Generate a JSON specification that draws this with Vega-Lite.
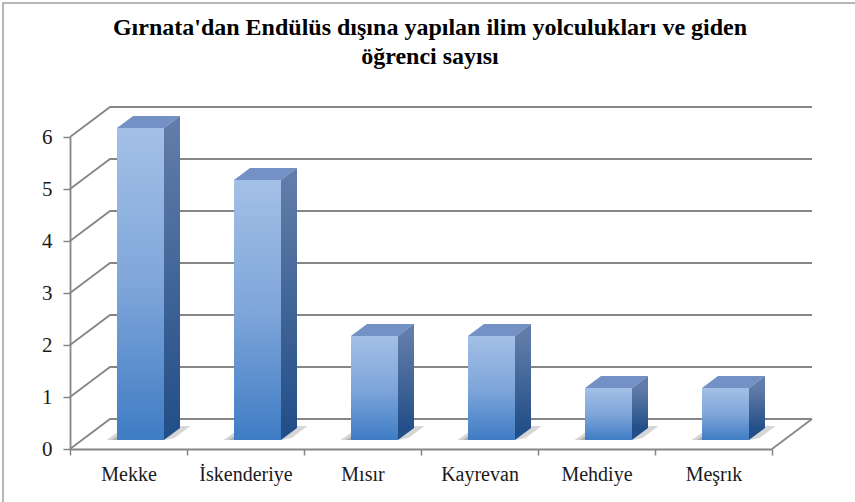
{
"$schema":"https://vega.github.io/schema/vega-lite/v6.json",
"width":702,"height":312,
"autosize":{"type":"none"},
"padding":{"left":70,"top":137,"right":83,"bottom":53},
"background":"white",
"title":{"text":["Gırnata'dan Endülüs dışına yapılan ilim yolculukları ve giden","öğrenci sayısı"],"font":"Liberation Serif","fontWeight":"bold","fontSize":24,"lineHeight":29,"color":"#000000","anchor":"middle","dx":9,"offset":-69,"frame":"group"},
"datasets":{
"sehirler":[{"sehir":"Mekke","ogrenci":6},{"sehir":"İskenderiye","ogrenci":5},{"sehir":"Mısır","ogrenci":2},{"sehir":"Kayrevan","ogrenci":2},{"sehir":"Mehdiye","ogrenci":1},{"sehir":"Meşrık","ogrenci":1}],
"tikler":[{"t":0},{"t":1},{"t":2},{"t":3},{"t":4},{"t":5},{"t":6}]
},
"config":{"view":{"stroke":null}},
"resolve":{"scale":{"x":"shared","y":"shared"}},
"layer":[
{"data":{"name":"tikler"},
 "mark":{"type":"point","shape":"M-58.5,0 L-18.5,-30 L683.5,-30","size":4,"filled":false,"stroke":"#868686","strokeWidth":1.8,"opacity":1},
 "encoding":{"x":{"datum":"Mekke","type":"nominal","scale":{"domain":["Mekke","İskenderiye","Mısır","Kayrevan","Mehdiye","Meşrık"],"paddingInner":0,"paddingOuter":0},
   "axis":{"title":null,"labelAngle":0,"labelFont":"Liberation Serif","labelFontSize":20,"labelColor":"#1a1a1a","labelPadding":9,"domainColor":"#868686","domainWidth":1.8,"tickColor":"#868686","tickWidth":1.5,"tickSize":6,"tickBand":"extent"}},
  "y":{"field":"t","type":"quantitative","scale":{"domain":[0,6],"nice":false},
   "axis":{"title":null,"values":[0,1,2,3,4,5,6],"format":"d","grid":false,"labelFont":"Liberation Serif","labelFontSize":21,"labelColor":"#1a1a1a","labelPadding":11,"domainColor":"#868686","domainWidth":1.8,"tickColor":"#868686","tickWidth":1.5,"tickSize":7}}}},
{"data":{"values":[{"sehir":"Mekke","t":0}]},
 "mark":{"type":"point","shape":"M683.5,-30 L643.5,0","size":4,"filled":false,"stroke":"#868686","strokeWidth":1.8,"opacity":1},
 "encoding":{"x":{"field":"sehir","type":"nominal"},"y":{"field":"t","type":"quantitative"}}},
{"data":{"values":[{"sehir":"Mekke","t":0}]},
 "mark":{"type":"point","shape":"M-125.5,56 L-125.5,-446 L727,-446","size":4,"filled":false,"stroke":"#a0a0a0","strokeWidth":1.5,"opacity":1},
 "encoding":{"x":{"field":"sehir","type":"nominal"},"y":{"field":"t","type":"quantitative"}}},
{"data":{"name":"sehirler"},
 "mark":{"type":"point","shape":"M-22,-9 L-12,-16 L20,-16 L20,-9 Z","size":4,"filled":true,"fill":"#8a8a8a","strokeWidth":0,"opacity":0.35},
 "encoding":{"x":{"field":"sehir","type":"nominal"},"y":{"datum":0}}},
{"data":{"name":"sehirler"},
 "mark":{"type":"point","shape":"M-17,-9 L-11,-13 L20,-13 L20,-9 Z","size":4,"filled":true,"fill":"#8a8a8a","strokeWidth":0,"opacity":0.45},
 "encoding":{"x":{"field":"sehir","type":"nominal"},"y":{"datum":0}}},
{"data":{"name":"sehirler"},
 "mark":{"type":"point","shape":"M36,-9 L52,-23 L62,-23 L46,-11 Z","size":4,"filled":true,"fill":"#8a8a8a","strokeWidth":0,"opacity":0.35},
 "encoding":{"x":{"field":"sehir","type":"nominal"},"y":{"datum":0}}},
{"data":{"name":"sehirler"},
 "mark":{"type":"bar","size":16,"xOffset":43.5,"yOffset":-9,"y2Offset":-21,"color":{"gradient":"linear","x1":0,"y1":0,"x2":0,"y2":1,"stops":[{"offset":0,"color":"#617ca8"},{"offset":1,"color":"#234f88"}]}},
 "encoding":{"x":{"field":"sehir","type":"nominal"},"y":{"field":"ogrenci","type":"quantitative"},"y2":{"datum":0}}},
{"data":{"name":"sehirler"},
 "mark":{"type":"point","shape":"M35.5,-9 L51.5,-21 L35.5,-21 Z","size":4,"filled":true,"fill":"#234f88","strokeWidth":0,"opacity":1},
 "encoding":{"x":{"field":"sehir","type":"nominal"},"y":{"datum":0}}},
{"data":{"name":"sehirler"},
 "mark":{"type":"bar","size":47,"xOffset":12,"yOffset":-9,"y2Offset":-9,"color":{"gradient":"linear","x1":0,"y1":0,"x2":0,"y2":1,"stops":[{"offset":0,"color":"#a3c0e6"},{"offset":0.5,"color":"#7fa6da"},{"offset":1,"color":"#3f7cc4"}]}},
 "encoding":{"x":{"field":"sehir","type":"nominal"},"y":{"field":"ogrenci","type":"quantitative"},"y2":{"datum":0}}},
{"data":{"name":"sehirler"},
 "mark":{"type":"point","shape":"M-11.5,-9 L35.5,-9 L51.5,-21 L4.5,-21 Z","size":4,"filled":true,"fill":"#7391c5","strokeWidth":0,"opacity":1},
 "encoding":{"x":{"field":"sehir","type":"nominal"},"y":{"field":"ogrenci","type":"quantitative"}}},
{"data":{"name":"sehirler"},
 "mark":{"type":"point","shape":"M35.5,-9 L51.5,-21 L51.5,-9 Z","size":4,"filled":true,"fill":"#617ca8","strokeWidth":0,"opacity":1},
 "encoding":{"x":{"field":"sehir","type":"nominal"},"y":{"field":"ogrenci","type":"quantitative"}}}
]
}
